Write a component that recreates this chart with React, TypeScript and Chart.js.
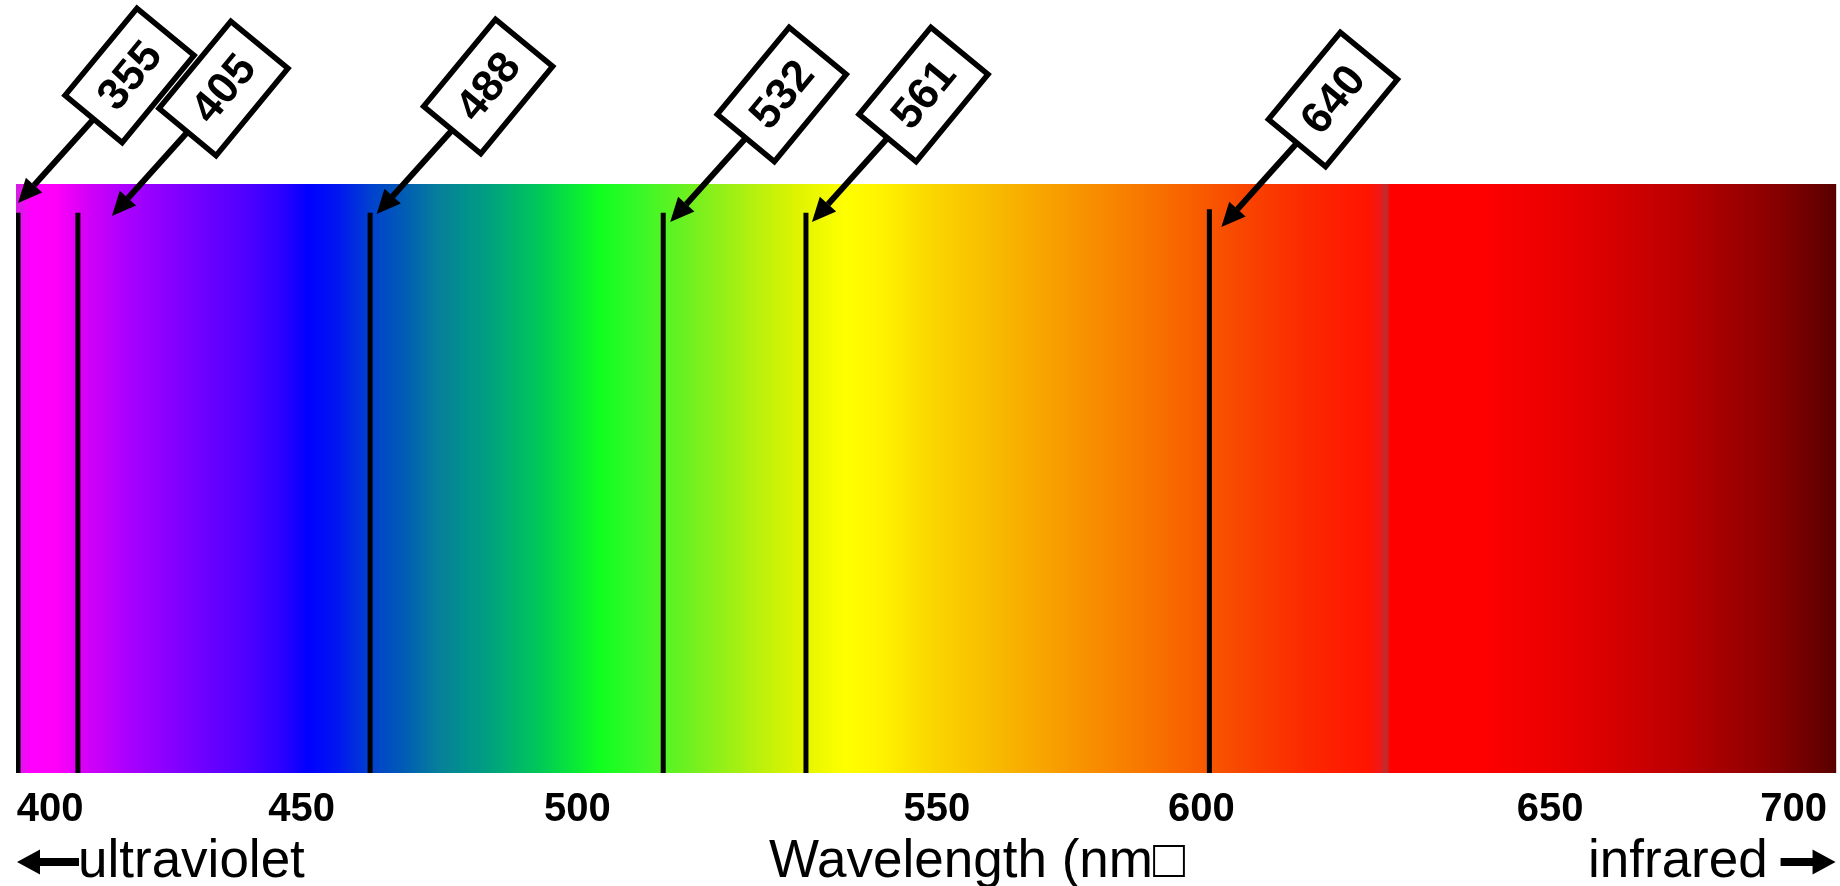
import React, { useEffect, useRef } from "react";
import { Chart, registerables } from "chart.js";

Chart.register(...registerables);

// ---- data ----
// x axis runs 0..1000 along the spectrum strip (the printed wavelength ticks are not evenly spaced)
const tickPositions = [18.7, 156.9, 308.3, 505.8, 651.1, 842.6, 976.4];
const tickLabels = ["400", "450", "500", "550", "600", "650", "700"];

const laserWavelengths = [355, 405, 488, 532, 561, 640];
const laserPositions = [1.1, 34.0, 194.5, 355.5, 433.9, 655.5];
const laserLineTops = [95.1, 95.1, 95.1, 95.1, 95.1, 95.7];

const bandLevel = 100;

const spectrumStopPositions = [
  0, 7.7, 21.4, 40.6, 62.5, 95.4, 128.4, 147.6, 160.2, 177.7, 194.2, 210.6, 232.6, 260, 287.4, 320.4,
  342.3, 369.7, 402.6, 430, 455.3, 474, 501.4, 539.8, 583.7, 627.5, 671.4, 709.8, 742.7, 749.3, 752.6,
  754.8, 803.1, 857.9, 912.8, 956.7, 978.6, 1000,
];
const spectrumStopColors = [
  "#d020e0", "#ff00ff", "#ff00f8", "#d000f8", "#a800ff", "#7800ff", "#4c00ff", "#2800ff", "#0000ff",
  "#0018f0", "#0040d0", "#0058b8", "#06809a", "#00a080", "#00c858", "#10ff20", "#38f828", "#70f020",
  "#b0f010", "#e0f400", "#ffff00", "#fff400", "#fad800", "#f8b800", "#f89400", "#f87000", "#f84800",
  "#fc2800", "#ff1400", "#f01818", "#b83030", "#ff0000", "#ff0000", "#e40000", "#bc0000", "#920000",
  "#780000", "#580000",
];

const axisTitle = "Wavelength (nm□";
const leftNote = "ultraviolet";
const rightNote = "infrared";

// ---- styling / layout ----
const FONT = '"Liberation Sans", Arial, sans-serif';
const calloutTipDx = [0, 34, 6.5, 7, 6, 12];
const calloutTipDy = [19, 32, 30, 38, 38, 43];
const ARROW_ANGLE = (48 * Math.PI) / 180;
const BOX_ANGLE = (50.5 * Math.PI) / 180;
const ARROW_LEN = 113;
const BOX_LONG = 113;
const BOX_SHORT = 74;

const calloutPlugin = {
  id: "callouts",
  afterDatasetsDraw(chart: any) {
    const { ctx, chartArea } = chart;
    const xs = chart.scales.x;
    const ux = Math.cos(ARROW_ANGLE);
    const uy = -Math.sin(ARROW_ANGLE);
    const bx = Math.cos(BOX_ANGLE);
    const by = -Math.sin(BOX_ANGLE);
    ctx.save();
    laserWavelengths.forEach((wl, i) => {
      const tipX = xs.getPixelForValue(laserPositions[i]) + calloutTipDx[i];
      const tipY = chartArea.top + calloutTipDy[i];
      const tailX = tipX + ux * ARROW_LEN;
      const tailY = tipY + uy * ARROW_LEN;
      const headLen = 24;
      const headHalf = 11;
      const baseX = tipX + ux * headLen;
      const baseY = tipY + uy * headLen;
      ctx.strokeStyle = "#000";
      ctx.lineWidth = 6;
      ctx.lineCap = "butt";
      ctx.beginPath();
      ctx.moveTo(tailX, tailY);
      ctx.lineTo(baseX, baseY);
      ctx.stroke();
      const px = -uy;
      const py = ux;
      ctx.fillStyle = "#000";
      ctx.beginPath();
      ctx.moveTo(tipX, tipY);
      ctx.lineTo(baseX + px * headHalf, baseY + py * headHalf);
      ctx.lineTo(baseX - px * headHalf, baseY - py * headHalf);
      ctx.closePath();
      ctx.fill();

      const cX = tailX + bx * (BOX_LONG / 2);
      const cY = tailY + by * (BOX_LONG / 2);
      ctx.save();
      ctx.translate(cX, cY);
      ctx.rotate(-BOX_ANGLE);
      ctx.fillStyle = "#fff";
      ctx.fillRect(-BOX_LONG / 2, -BOX_SHORT / 2, BOX_LONG, BOX_SHORT);
      ctx.lineWidth = 5.5;
      ctx.lineJoin = "miter";
      ctx.strokeStyle = "#000";
      ctx.strokeRect(-BOX_LONG / 2, -BOX_SHORT / 2, BOX_LONG, BOX_SHORT);
      ctx.fillStyle = "#000";
      ctx.font = `bold 44px ${FONT}`;
      ctx.textAlign = "center";
      ctx.textBaseline = "middle";
      ctx.fillText(String(wl), 0, 2);
      ctx.restore();
    });
    ctx.restore();
  },
};

const bottomTextPlugin = {
  id: "bottomText",
  afterDraw(chart: any) {
    const { ctx, chartArea } = chart;
    ctx.save();
    ctx.fillStyle = "#000";
    ctx.font = `53px ${FONT}`;
    ctx.textBaseline = "alphabetic";
    ctx.textAlign = "left";
    const baseY = 877;
    ctx.fillText(leftNote, chartArea.left + 62, baseY);
    ctx.fillText(axisTitle, 769, baseY);
    ctx.fillText(rightNote, 1588, baseY);
    const ay = 862;
    // left arrow
    const lx = chartArea.left + 1;
    ctx.fillRect(lx + 21, ay - 4, 41, 8);
    ctx.beginPath();
    ctx.moveTo(lx, ay);
    ctx.lineTo(lx + 23, ay - 12.5);
    ctx.lineTo(lx + 23, ay + 12.5);
    ctx.closePath();
    ctx.fill();
    // right arrow
    const rx = chartArea.right - 1;
    ctx.fillRect(rx - 55, ay - 4, 34, 8);
    ctx.beginPath();
    ctx.moveTo(rx, ay);
    ctx.lineTo(rx - 23, ay - 12.5);
    ctx.lineTo(rx - 23, ay + 12.5);
    ctx.closePath();
    ctx.fill();
    ctx.restore();
  },
};

function spectrumGradient(c: any) {
  const chart = c.chart;
  const { chartArea } = chart;
  const xs = chart.scales.x;
  if (!chartArea || !xs) return "#f00";
  const p0 = xs.getPixelForValue(spectrumStopPositions[0]);
  const p1 = xs.getPixelForValue(spectrumStopPositions[spectrumStopPositions.length - 1]);
  const g = chart.ctx.createLinearGradient(p0, 0, p1, 0);
  spectrumStopPositions.forEach((v, i) => {
    const off = (xs.getPixelForValue(v) - p0) / (p1 - p0);
    g.addColorStop(Math.min(1, Math.max(0, off)), spectrumStopColors[i]);
  });
  return g;
}

export default function App() {
  const canvasRef = useRef<HTMLCanvasElement | null>(null);

  useEffect(() => {
    if (!canvasRef.current) return;
    const lineSets = laserWavelengths.map((wl, i) => ({
      label: `${wl} nm`,
      data: [
        { x: laserPositions[i], y: 0 },
        { x: laserPositions[i], y: laserLineTops[i] },
      ],
      borderColor: "#000",
      borderWidth: 5,
      borderCapStyle: "butt",
      pointRadius: 0,
      fill: false,
      order: 0,
    }));
    const chart = new Chart(canvasRef.current, {
      type: "line",
      data: {
        datasets: [
          ...lineSets,
          {
            label: "spectrum",
            data: [
              { x: spectrumStopPositions[0], y: bandLevel },
              { x: spectrumStopPositions[spectrumStopPositions.length - 1], y: bandLevel },
            ],
            borderColor: "rgba(0,0,0,0)",
            borderWidth: 0,
            pointRadius: 0,
            backgroundColor: spectrumGradient,
            fill: "origin",
            order: 10,
          },
        ] as any,
      },
      options: {
        animation: false,
        responsive: false,
        maintainAspectRatio: false,
        devicePixelRatio: 1,
        layout: { padding: { left: 16, right: 1, top: 184, bottom: 39 } },
        plugins: {
          legend: { display: false },
          tooltip: { enabled: false },
          title: { display: false },
        },
        scales: {
          x: {
            type: "linear",
            min: 0,
            max: 1000,
            afterBuildTicks: (scale: any) => {
              scale.ticks = tickPositions.map((v) => ({ value: v }));
            },
            grid: { display: false, drawTicks: false },
            border: { display: false },
            ticks: {
              autoSkip: false,
              maxRotation: 0,
              minRotation: 0,
              padding: 13,
              color: "#000",
              font: { family: FONT, size: 40, weight: "bold" },
              callback: (_v: any, idx: number) => tickLabels[idx],
            },
          },
          y: {
            type: "linear",
            min: 0,
            max: 100,
            display: false,
          },
        },
      } as any,
      plugins: [calloutPlugin, bottomTextPlugin],
    });
    return () => chart.destroy();
  }, []);

  return (
    <div style={{ position: "fixed", left: 0, top: 0, width: 1840, height: 886, background: "#fff" }}>
      <canvas ref={canvasRef} width={1840} height={886} style={{ display: "block" }} />
    </div>
  );
}
